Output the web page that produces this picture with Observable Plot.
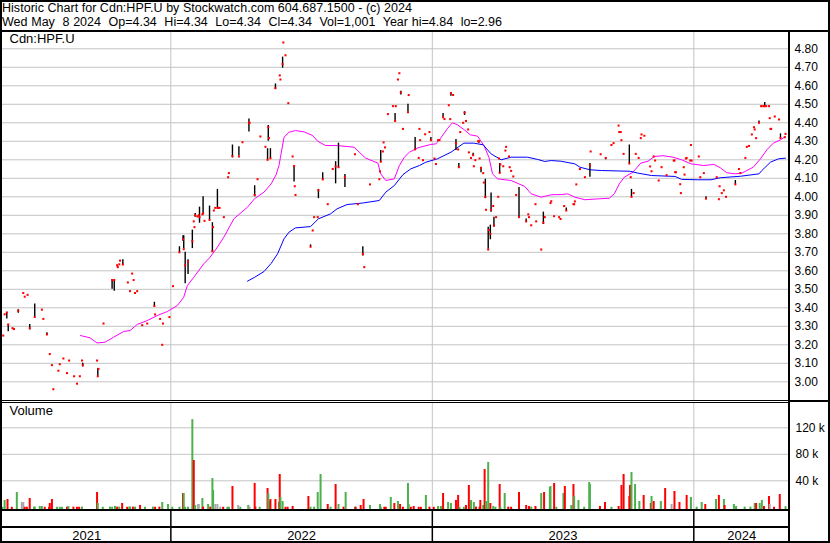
<!DOCTYPE html>
<html><head><meta charset="utf-8">
<script src="https://cdn.jsdelivr.net/npm/d3@7"></script>
<script src="https://cdn.jsdelivr.net/npm/@observablehq/plot@0.6"></script>
<style>
body{margin:0;background:#fff;}
#wrap{position:relative;width:830px;height:543px;overflow:hidden;font-family:Arial,"Liberation Sans",sans-serif;background:#fff;}
.ln{position:absolute;background:#000;}
.hdr{position:absolute;left:2px;font-size:12.5px;line-height:14px;white-space:pre;color:#000;}
.panel{position:absolute;left:0;}
.panel svg{display:block;}
</style></head><body><div id="wrap"></div><script>
// ---------- DATA ----------
const headerLine1 = "Historic Chart for Cdn:HPF.U by Stockwatch.com 604.687.1500 - (c) 2024";
const headerLine2 = "Wed May  8 2024  Op=4.34  Hi=4.34  Lo=4.34  Cl=4.34  Vol=1,001  Year hi=4.84  lo=2.96";
const symbolLabel = "Cdn:HPF.U";
const volumeLabel = "Volume";
const years = ["2021","2022","2023","2024"];
const yearStarts = ["2022-01-01","2023-01-01","2024-01-01"];
const dateRange = ["2021-05-11","2024-05-13T14:00"];
const priceTicks = [3.0,3.1,3.2,3.3,3.4,3.5,3.6,3.7,3.8,3.9,4.0,4.1,4.2,4.3,4.4,4.5,4.6,4.7,4.8];
const priceDomain = [2.899, 4.888];
const volTicks = [40,80,120];          // thousands
const volDomain = [-4.8, 158.2];       // thousands

// closing prices (red marks)
const closes = [
["2021-05-12",3.25],["2021-05-14",3.365],["2021-05-17",3.375],["2021-05-19",3.31],["2021-05-25",3.29],["2021-05-27",3.285],
["2021-06-02",3.385],["2021-06-09",3.48],["2021-06-11",3.46],["2021-06-15",3.47],["2021-06-18",3.29],["2021-06-25",3.35],
["2021-07-05",3.39],["2021-07-07",3.34],["2021-07-12",3.256],["2021-07-16",3.15],["2021-07-19",3.09],["2021-07-21",2.96],
["2021-07-28",3.06],["2021-07-30",3.095],["2021-08-04",3.126],["2021-08-09",3.047],["2021-08-12",3.115],["2021-08-19",3.03],
["2021-08-23",2.99],["2021-08-27",3.03],["2021-08-30",3.115],["2021-08-31",3.09],["2021-09-20",3.115],["2021-09-21",3.03],
["2021-09-22",3.07],["2021-09-29",3.315],["2021-10-11",3.55],["2021-10-14",3.55],["2021-10-18",3.63],["2021-10-19",3.62],
["2021-10-21",3.635],["2021-10-22",3.655],["2021-10-26",3.634],["2021-11-02",3.537],["2021-11-05",3.49],["2021-11-08",3.585],
["2021-11-10",3.55],["2021-11-12",3.48],["2021-11-15",3.49],["2021-11-22",3.306],["2021-11-29",3.315],["2021-12-09",3.41],
["2021-12-10",3.364],["2021-12-17",3.34],["2021-12-20",3.20],["2021-12-21",3.315],["2021-12-30",3.35],
["2022-01-04",3.517],["2022-01-13",3.70],["2022-01-18",3.77],["2022-01-19",3.717],["2022-01-21",3.63],["2022-01-25",3.65],
["2022-01-31",3.76],["2022-02-02",3.867],["2022-02-03",3.836],["2022-02-04",3.90],["2022-02-07",3.894],["2022-02-09",3.90],
["2022-02-10",3.89],["2022-02-14",3.905],["2022-02-15",3.91],["2022-02-17",3.87],["2022-02-24",3.875],["2022-02-28",3.706],
["2022-03-01",3.836],["2022-03-02",3.926],["2022-03-04",3.94],["2022-03-07",3.94],["2022-03-08",3.94],["2022-03-10",3.94],
["2022-03-16",3.89],["2022-03-22",4.106],["2022-03-23",4.128],["2022-03-28",4.22],["2022-04-06",4.218],["2022-04-11",4.295],
["2022-04-20",4.40],["2022-04-21",4.40],["2022-04-28",4.01],["2022-05-02",4.095],["2022-05-06",4.326],["2022-05-13",4.27],
["2022-05-16",4.20],["2022-05-17",4.376],["2022-05-18",4.317],["2022-05-20",4.208],["2022-05-27",4.587],["2022-06-02",4.656],
["2022-06-03",4.634],["2022-06-06",4.717],["2022-06-07",4.834],["2022-06-10",4.765],["2022-06-14",4.506],["2022-06-20",4.218],
["2022-06-22",4.166],["2022-06-23",4.057],["2022-06-24",4.01],["2022-07-15",3.73],["2022-07-18",3.818],["2022-07-20",3.89],
["2022-07-25",3.89],["2022-07-26",4.035],["2022-08-01",4.094],["2022-08-08",3.96],["2022-08-15",4.15],["2022-08-19",4.164],
["2022-08-23",4.16],["2022-09-01",4.106],["2022-09-15",4.23],["2022-09-19",3.96],["2022-09-26",3.69],["2022-09-28",3.62],
["2022-10-06",4.067],["2022-10-19",4.095],["2022-10-20",4.137],["2022-10-21",4.19],["2022-10-24",4.245],["2022-10-25",4.294],
["2022-10-27",4.267],["2022-10-31",4.447],["2022-11-07",4.49],["2022-11-10",4.41],["2022-11-11",4.49],["2022-11-14",4.634],
["2022-11-16",4.668],["2022-11-18",4.564],["2022-11-21",4.367],["2022-11-28",4.457],["2022-11-29",4.55],["2022-12-08",4.256],
["2022-12-13",4.21],["2022-12-14",4.367],["2022-12-15",4.306],["2022-12-19",4.198],["2022-12-22",4.338],["2022-12-28",4.35],
["2022-12-30",4.306],
["2023-01-04",4.207],["2023-01-06",4.177],["2023-01-09",4.306],["2023-01-11",4.306],["2023-01-16",4.43],["2023-01-18",4.42],
["2023-01-24",4.495],["2023-01-26",4.42],["2023-01-27",4.56],["2023-01-30",4.55],["2023-02-03",4.29],["2023-02-06",4.256],
["2023-02-07",4.16],["2023-02-09",4.35],["2023-02-13",4.40],["2023-02-15",4.455],["2023-02-17",4.41],["2023-02-20",4.364],
["2023-02-21",4.24],["2023-02-24",4.21],["2023-02-27",4.225],["2023-02-28",4.165],["2023-03-02",4.198],["2023-03-06",4.30],
["2023-03-07",4.30],["2023-03-08",4.207],["2023-03-10",4.155],["2023-03-13",4.128],["2023-03-14",4.077],["2023-03-16",4.0],
["2023-03-17",3.93],["2023-03-20",3.715],["2023-03-21",3.82],["2023-03-23",3.80],["2023-03-24",3.93],["2023-03-27",3.95],
["2023-03-28",3.845],["2023-03-31",3.89],["2023-04-03",4.0],["2023-04-04",4.207],["2023-04-05",4.13],["2023-04-06",4.175],
["2023-04-10",4.165],["2023-04-13",4.25],["2023-04-14",4.27],["2023-04-18",4.218],["2023-04-19",4.16],["2023-04-21",4.14],
["2023-04-24",4.11],["2023-04-28",4.01],["2023-05-02",3.89],["2023-05-12",3.867],["2023-05-15",3.905],["2023-05-16",3.89],
["2023-05-19",3.846],["2023-05-25",3.96],["2023-05-26",3.867],["2023-06-02",3.715],["2023-06-05",3.86],["2023-06-07",3.89],
["2023-06-15",3.966],["2023-06-16",3.976],["2023-06-20",3.895],["2023-06-27",3.89],["2023-06-29",3.88],["2023-07-04",3.95],
["2023-07-07",3.926],["2023-07-17",3.96],["2023-07-18",3.96],["2023-07-19",3.975],["2023-07-21",4.067],["2023-07-26",4.15],
["2023-08-02",4.106],["2023-08-09",4.17],["2023-08-10",4.245],["2023-08-24",4.23],["2023-08-31",4.21],["2023-09-08",4.28],
["2023-09-11",4.29],["2023-09-18",4.385],["2023-09-19",4.35],["2023-09-21",4.35],["2023-09-22",4.306],["2023-09-25",4.232],
["2023-10-03",4.18],["2023-10-05",4.106],["2023-10-06",4.0],["2023-10-09",4.02],["2023-10-12",4.232],["2023-10-16",4.21],
["2023-10-19",4.317],["2023-10-20",4.337],["2023-10-24",4.33],["2023-11-01",4.164],["2023-11-03",4.138],["2023-11-06",4.218],
["2023-11-08",4.196],["2023-11-13",4.088],["2023-11-17",4.16],["2023-11-24",4.117],["2023-12-04",4.196],["2023-12-05",4.196],
["2023-12-06",4.133],["2023-12-07",4.133],["2023-12-13",4.068],["2023-12-14",4.02],["2023-12-18",4.16],["2023-12-19",4.12],
["2023-12-21",4.207],["2023-12-22",4.21],["2023-12-27",4.196],["2023-12-28",4.28],["2023-12-29",4.196],
["2024-01-08",4.218],["2024-01-10",4.106],["2024-01-15",4.128],["2024-01-18",3.99],["2024-02-02",4.106],["2024-02-05",3.987],
["2024-02-06",4.057],["2024-02-09",4.02],["2024-02-12",4.035],["2024-02-15",4.0],["2024-02-28",4.067],["2024-03-04",4.15],
["2024-03-06",4.128],["2024-03-13",4.21],["2024-03-15",4.27],["2024-03-18",4.275],["2024-03-22",4.337],["2024-03-25",4.376],
["2024-03-26",4.364],["2024-03-28",4.317],["2024-04-01",4.40],["2024-04-04",4.49],["2024-04-05",4.49],["2024-04-08",4.49],
["2024-04-09",4.49],["2024-04-11",4.49],["2024-04-15",4.49],["2024-04-16",4.425],["2024-04-17",4.367],["2024-04-18",4.367],
["2024-04-23",4.434],["2024-04-29",4.418],["2024-05-01",4.317],["2024-05-07",4.322],["2024-05-08",4.34]
];

// daily low-high ranges (black bars)
const ranges = [
["2021-05-17",3.34,3.375],["2021-05-19",3.27,3.31],["2021-06-02",3.37,3.39],["2021-06-18",3.28,3.31],["2021-06-25",3.35,3.42],
["2021-07-12",3.25,3.265],["2021-08-31",3.08,3.10],["2021-09-21",3.03,3.07],["2021-10-11",3.50,3.55],["2021-10-14",3.49,3.55],
["2021-10-26",3.63,3.66],["2021-12-09",3.41,3.43],["2022-01-13",3.70,3.73],["2022-01-18",3.76,3.79],["2022-01-19",3.72,3.79],
["2022-01-21",3.53,3.70],["2022-01-25",3.58,3.66],["2022-01-31",3.72,3.82],["2022-02-04",3.89,3.91],["2022-02-10",3.857,3.944],
["2022-02-15",3.91,4.0],["2022-02-24",3.875,3.95],["2022-02-28",3.70,3.86],["2022-03-07",3.94,4.04],["2022-03-28",4.21,4.28],
["2022-04-06",4.22,4.27],["2022-04-20",4.35,4.42],["2022-04-28",4.0,4.06],["2022-05-16",4.20,4.26],["2022-05-17",4.30,4.385],
["2022-05-20",4.205,4.26],["2022-05-27",4.58,4.61],["2022-06-06",4.695,4.755],["2022-06-22",4.08,4.166],["2022-07-15",3.73,3.74],
["2022-07-26",3.99,4.04],["2022-08-01",4.09,4.13],["2022-08-19",4.07,4.19],["2022-08-23",4.155,4.29],["2022-09-01",4.05,4.12],
["2022-09-26",3.68,3.73],["2022-10-21",4.185,4.25],["2022-11-10",4.41,4.45],["2022-11-18",4.55,4.57],["2022-11-28",4.457,4.50],
["2022-12-08",4.256,4.32],["2022-12-30",4.30,4.32],["2023-01-16",4.43,4.45],["2023-01-27",4.544,4.564],["2023-02-03",4.25,4.31],
["2023-02-07",4.157,4.18],["2023-02-15",4.44,4.46],["2023-02-27",4.22,4.235],["2023-03-07",4.29,4.30],["2023-03-10",4.13,4.16],
["2023-03-16",3.99,4.095],["2023-03-20",3.717,3.835],["2023-03-23",3.768,3.847],["2023-03-24",3.917,4.02],["2023-03-28",3.836,3.89],
["2023-04-05",4.124,4.18],["2023-05-02",3.89,4.05],["2023-05-12",3.867,3.88],["2023-06-05",3.85,3.917],["2023-07-07",3.926,3.94],
["2023-08-09",4.106,4.18],["2023-08-31",4.20,4.21],["2023-10-03",4.18,4.28],["2023-10-06",4.0,4.04],["2024-01-18",3.987,4.0],
["2024-02-28",4.067,4.088],["2024-04-01",4.40,4.41],["2024-04-09",4.49,4.51],["2024-05-01",4.317,4.34]
];

// short moving average (magenta)
const maShort = [
["2021-08-28",3.25],["2021-09-10",3.238],["2021-09-20",3.21],["2021-10-01",3.214],["2021-10-13",3.241],["2021-10-27",3.272],
["2021-11-05",3.277],["2021-11-15",3.31],["2021-11-29",3.331],["2021-12-13",3.358],["2021-12-27",3.38],["2022-01-10",3.412],
["2022-01-19",3.457],["2022-01-24",3.52],["2022-02-02",3.565],["2022-02-16",3.638],["2022-02-25",3.674],["2022-03-07",3.728],
["2022-03-16",3.782],["2022-03-30",3.881],["2022-04-18",3.944],["2022-04-28",3.99],["2022-05-11",4.025],["2022-05-21",4.07],
["2022-05-28",4.12],["2022-06-01",4.17],["2022-06-03",4.214],["2022-06-08",4.322],["2022-06-15",4.349],["2022-06-24",4.358],
["2022-07-06",4.351],["2022-07-18",4.331],["2022-07-25",4.30],["2022-08-05",4.277],["2022-08-21",4.277],["2022-09-14",4.268],
["2022-09-21",4.241],["2022-09-30",4.209],["2022-10-17",4.182],["2022-10-21",4.124],["2022-10-28",4.088],["2022-11-09",4.097],
["2022-11-16",4.169],["2022-11-23",4.214],["2022-11-30",4.241],["2022-12-12",4.265],["2022-12-30",4.283],["2023-01-06",4.286],
["2023-01-13",4.319],["2023-01-22",4.368],["2023-01-29",4.40],["2023-02-05",4.389],["2023-02-14",4.364],["2023-02-23",4.335],
["2023-03-05",4.328],["2023-03-14",4.277],["2023-03-21",4.214],["2023-03-26",4.124],["2023-04-02",4.097],["2023-04-21",4.088],
["2023-05-10",4.056],["2023-05-19",4.016],["2023-06-02",3.998],["2023-06-16",4.011],["2023-06-30",4.012],["2023-07-09",4.016],
["2023-07-19",3.998],["2023-08-02",3.984],["2023-08-21",3.989],["2023-09-05",3.992],["2023-09-12",4.016],["2023-09-19",4.07],
["2023-09-26",4.106],["2023-10-08",4.133],["2023-10-19",4.182],["2023-10-29",4.192],["2023-11-07",4.218],["2023-11-19",4.222],
["2023-12-03",4.214],["2023-12-15",4.20],["2023-12-28",4.178],["2024-01-15",4.169],["2024-01-29",4.175],["2024-02-07",4.157],
["2024-02-16",4.13],["2024-02-28",4.124],["2024-03-08",4.128],["2024-03-24",4.16],["2024-04-03",4.205],["2024-04-12",4.254],
["2024-04-21",4.29],["2024-05-01",4.308],["2024-05-08",4.326]
];

// long moving average (blue)
const maLong = [
["2022-04-18",3.544],["2022-04-28",3.565],["2022-05-11",3.596],["2022-05-21",3.64],["2022-05-30",3.692],["2022-06-08",3.773],
["2022-06-15",3.809],["2022-06-24",3.832],["2022-07-15",3.839],["2022-07-26",3.881],["2022-08-12",3.908],["2022-08-21",3.935],
["2022-09-04",3.958],["2022-09-27",3.967],["2022-10-19",3.98],["2022-10-28",4.025],["2022-11-09",4.061],["2022-11-21",4.12],
["2022-12-02",4.151],["2022-12-14",4.169],["2022-12-23",4.187],["2023-01-08",4.205],["2023-01-27",4.241],["2023-02-14",4.29],
["2023-02-28",4.29],["2023-03-13",4.281],["2023-03-24",4.232],["2023-04-07",4.20],["2023-04-21",4.214],["2023-05-14",4.214],
["2023-05-28",4.202],["2023-06-07",4.191],["2023-06-16",4.196],["2023-06-30",4.192],["2023-07-19",4.178],["2023-07-26",4.16],
["2023-08-09",4.146],["2023-08-25",4.142],["2023-10-04",4.138],["2023-10-15",4.128],["2023-11-03",4.115],["2023-12-06",4.11],
["2023-12-15",4.094],["2024-01-06",4.092],["2024-01-25",4.092],["2024-02-07",4.103],["2024-03-06",4.111],["2024-04-01",4.124],
["2024-04-05",4.142],["2024-04-17",4.187],["2024-04-28",4.205],["2024-05-08",4.209]
];

// daily volume in thousands; g = up, r = down, n = unchanged
const volumes = [
["2021-05-11",0.1,"g"],["2021-05-14",10.3,"g"],["2021-05-18",11.8,"r"],["2021-05-24",0.1,"r"],["2021-05-31",22.4,"g"],
["2021-06-07",7.3,"n"],["2021-06-09",7.3,"n"],["2021-06-11",0.1,"r"],["2021-06-14",0.1,"r"],["2021-06-18",13.3,"r"],
["2021-06-24",0.3,"g"],["2021-06-25",0.3,"g"],["2021-07-02",1.3,"g"],["2021-07-05",1.3,"g"],["2021-07-09",0.1,"r"],
["2021-07-15",0.1,"r"],["2021-07-16",5.8,"r"],["2021-07-19",11.8,"r"],["2021-07-26",0.1,"g"],["2021-07-30",0.1,"g"],
["2021-08-02",0.1,"g"],["2021-08-09",0.1,"r"],["2021-08-11",1.3,"g"],["2021-08-18",0.3,"r"],["2021-08-23",0.1,"r"],
["2021-08-26",0.1,"r"],["2021-08-30",0.3,"g"],["2021-09-20",22.4,"r"],["2021-09-21",5.8,"g"],["2021-09-28",0.1,"g"],
["2021-10-08",0.3,"g"],["2021-10-11",0.1,"g"],["2021-10-15",1.3,"g"],["2021-10-18",0.3,"r"],["2021-10-21",0.3,"g"],
["2021-10-25",5.8,"r"],["2021-11-01",0.1,"r"],["2021-11-04",0.3,"g"],["2021-11-05",0.3,"g"],["2021-11-09",0.3,"r"],
["2021-11-12",0.3,"g"],["2021-11-19",2.8,"r"],["2021-11-26",0.1,"g"],["2021-12-07",0.3,"g"],["2021-12-10",0.1,"r"],
["2021-12-16",0.3,"r"],["2021-12-20",7.3,"g"],["2021-12-28",4.3,"g"],
["2022-01-03",0.1,"g"],["2022-01-13",0.1,"g"],["2022-01-18",20.9,"r"],["2022-01-19",20.9,"g"],["2022-01-21",0.1,"g"],
["2022-01-25",0.1,"g"],["2022-01-31",132.4,"g"],["2022-02-02",70.6,"r"],["2022-02-04",2.8,"g"],["2022-02-08",4.3,"n"],
["2022-02-09",4.3,"n"],["2022-02-14",13.3,"g"],["2022-02-15",0.3,"r"],["2022-02-22",4.3,"g"],["2022-02-25",0.3,"r"],
["2022-02-28",43.5,"g"],["2022-03-01",25.4,"g"],["2022-03-04",4.3,"n"],["2022-03-07",4.3,"n"],["2022-03-11",0.3,"n"],
["2022-03-15",0.1,"r"],["2022-03-21",0.1,"g"],["2022-03-23",0.1,"g"],["2022-03-28",31.4,"r"],["2022-04-05",2.8,"n"],
["2022-04-08",0.1,"g"],["2022-04-19",2.8,"g"],["2022-04-21",0.3,"n"],["2022-04-28",36,"r"],["2022-04-29",0.3,"r"],
["2022-05-05",0.1,"g"],["2022-05-16",28.4,"r"],["2022-05-17",20.9,"g"],["2022-05-18",8.8,"g"],["2022-05-20",11.8,"r"],
["2022-05-27",11.8,"r"],["2022-06-01",7.3,"g"],["2022-06-02",49.5,"r"],["2022-06-03",14.8,"g"],["2022-06-06",8.8,"g"],
["2022-06-10",0.1,"r"],["2022-06-13",0.1,"r"],["2022-06-20",1.3,"r"],["2022-07-12",16.3,"r"],["2022-07-15",0.3,"g"],
["2022-07-20",0.3,"g"],["2022-07-25",22.4,"g"],["2022-07-29",49.5,"g"],["2022-08-08",4.3,"r"],["2022-08-12",0.3,"g"],
["2022-08-19",34.4,"r"],["2022-08-23",4.3,"g"],["2022-08-30",0.3,"r"],["2022-09-02",22.4,"g"],["2022-09-15",0.3,"g"],
["2022-09-16",0.1,"r"],["2022-09-23",2.8,"r"],["2022-09-27",11.8,"r"],["2022-10-06",2.8,"g"],["2022-10-20",4.3,"g"],
["2022-10-21",0.3,"g"],["2022-10-26",0.1,"r"],["2022-10-28",0.1,"r"],["2022-11-04",14.8,"g"],["2022-11-09",5.8,"r"],
["2022-11-14",8.8,"g"],["2022-11-17",4.3,"r"],["2022-11-21",0.1,"r"],["2022-11-28",36,"g"],["2022-11-29",4.3,"g"],
["2022-12-02",0.1,"r"],["2022-12-06",1.3,"r"],["2022-12-13",0.1,"r"],["2022-12-16",0.1,"r"],["2022-12-23",17.9,"g"],
["2022-12-28",0.3,"r"],
["2023-01-03",0.1,"r"],["2023-01-09",1.3,"g"],["2023-01-13",1.3,"g"],["2023-01-16",20.9,"r"],["2023-01-23",7.3,"g"],
["2023-01-27",5.8,"g"],["2023-02-03",10.3,"r"],["2023-02-06",17.9,"r"],["2023-02-08",0.1,"g"],["2023-02-14",0.1,"g"],
["2023-02-17",2.8,"r"],["2023-02-21",33,"r"],["2023-02-24",10.3,"g"],["2023-02-28",7.3,"g"],["2023-03-03",0.3,"r"],
["2023-03-08",0.3,"r"],["2023-03-09",10.3,"r"],["2023-03-13",2.8,"g"],["2023-03-15",57,"r"],["2023-03-17",8.8,"g"],
["2023-03-20",67.6,"g"],["2023-03-23",5.8,"r"],["2023-03-27",1.3,"g"],["2023-03-30",0.1,"g"],["2023-04-05",34.4,"r"],
["2023-04-06",0.3,"g"],["2023-04-12",20.9,"g"],["2023-04-17",0.3,"r"],["2023-04-21",0.1,"r"],["2023-05-02",22.4,"r"],
["2023-05-12",2.8,"r"],["2023-05-16",1.3,"r"],["2023-05-19",0.3,"g"],["2023-05-25",1.3,"r"],["2023-06-02",20.9,"g"],
["2023-06-06",22.4,"r"],["2023-06-14",29.9,"g"],["2023-06-15",31.4,"g"],["2023-06-20",36,"r"],["2023-06-23",0.3,"g"],
["2023-07-03",20.9,"g"],["2023-07-05",31.4,"r"],["2023-07-14",2.8,"g"],["2023-07-17",34.4,"r"],["2023-07-18",16.3,"g"],
["2023-07-24",10.3,"g"],["2023-08-01",0.1,"g"],["2023-08-08",37.5,"g"],["2023-08-09",34.4,"g"],["2023-08-23",1.3,"r"],
["2023-08-30",7.3,"r"],["2023-09-08",0.1,"g"],["2023-09-18",1.3,"r"],["2023-09-22",33,"r"],["2023-09-25",49.5,"r"],
["2023-10-03",16.3,"r"],["2023-10-04",33,"r"],["2023-10-06",52.6,"g"],["2023-10-11",34.4,"g"],["2023-10-17",8.8,"g"],
["2023-10-23",17.9,"r"],["2023-11-02",5.8,"r"],["2023-11-03",16.3,"g"],["2023-11-06",8.8,"r"],["2023-11-16",8.8,"g"],
["2023-11-22",28.4,"r"],["2023-12-01",4.3,"n"],["2023-12-05",23.9,"r"],["2023-12-12",7.3,"r"],["2023-12-22",17.9,"r"],
["2023-12-28",14.8,"g"],
["2024-01-05",0.1,"g"],["2024-01-12",7.3,"g"],["2024-01-17",4.3,"r"],["2024-02-01",11.8,"g"],["2024-02-05",17.9,"r"],
["2024-02-12",11.8,"g"],["2024-02-13",2.8,"r"],["2024-02-26",4.3,"g"],["2024-02-29",1.3,"g"],["2024-03-12",0.3,"g"],
["2024-03-20",0.3,"g"],["2024-03-26",5.8,"g"],["2024-03-28",5.8,"r"],["2024-04-02",5.8,"g"],["2024-04-05",10.3,"g"],
["2024-04-08",1.3,"r"],["2024-04-15",16.3,"r"],["2024-04-16",4.3,"n"],["2024-04-22",0.1,"r"],["2024-04-30",19.4,"r"],
["2024-05-08",1.0,"g"]
];

// ---------- STYLE ----------
const gridColor = "#c4c4c4";
const volColors = {g:"#4cb04c", r:"#ff0000", n:"#a8a8a8"};
const W = 830, mL = 2, mR = 41;
const hdrWidths = [410, 500];   // rendered widths of the two header lines

// ---------- BUILD ----------
const P = s => new Date(s.length <= 10 ? s + "T00:00Z" : s + "Z");
const xDom = dateRange.map(P);
const yStarts = yearStarts.map(P);
const closeData = closes.map(([d,v]) => ({date:P(d), v}));
const rangeData = ranges.map(([d,lo,hi]) => ({date:P(d), lo, hi}));
const shortData = maShort.map(([d,v]) => ({date:P(d), v}));
const longData = maLong.map(([d,v]) => ({date:P(d), v}));
const volData = volumes.map(([d,v,c]) => ({date:P(d), v, c}));
const bounds = [xDom[0], ...yStarts, xDom[1]];
const yearLabels = years.map((y,i) => ({label:y, date:new Date((+bounds[i] + +bounds[i+1]) / 2)}));

const wrap = document.getElementById("wrap");
function addLine(l,t,w,h){const d=document.createElement("div");d.className="ln";Object.assign(d.style,{left:l+"px",top:t+"px",width:w+"px",height:h+"px"});wrap.appendChild(d);}
function addHdr(text,top,target,mode){
  const d=document.createElement("div");d.className="hdr";d.style.top=top+"px";d.textContent=text;wrap.appendChild(d);
  const w=d.getBoundingClientRect().width;
  if(mode==="letter"){d.style.letterSpacing=((target-w)/text.length)+"px";}
  else{const n=(text.match(/ /g)||[]).length;d.style.wordSpacing=((target-w)/n)+"px";}
}
function addPanel(svg,top){const d=document.createElement("div");d.className="panel";d.style.top=top+"px";d.appendChild(svg);wrap.appendChild(d);}

addHdr(headerLine1, 1, hdrWidths[0], "letter");
addHdr(headerLine2, 15, hdrWidths[1], "word");

const xOpt = {type:"utc", domain:xDom, axis:null};
const font = 'Arial, "Liberation Sans", sans-serif';

const price = Plot.plot({
  width:W, height:370, marginTop:1, marginBottom:1, marginLeft:mL, marginRight:mR,
  x:xOpt, y:{domain:priceDomain, axis:null},
  style:{background:"transparent", overflow:"visible", fontFamily:font},
  marks:[
    Plot.ruleY(priceTicks, {stroke:gridColor, strokeWidth:1}),
    Plot.ruleX(yStarts, {stroke:gridColor, strokeWidth:1}),
    Plot.line(shortData, {x:"date", y:"v", stroke:"#ff00ff", strokeWidth:1}),
    Plot.line(longData, {x:"date", y:"v", stroke:"#0000ff", strokeWidth:1}),
    Plot.ruleX(rangeData, {x:"date", y1:"lo", y2:"hi", stroke:"#000", strokeWidth:1.4}),
    Plot.dot(closeData, {x:"date", y:"v", symbol:"square", r:1.15, fill:"#ff0000", stroke:"none"}),
    Plot.text(priceTicks, {x:() => xDom[1], y:d => d, text:d => d.toFixed(2), textAnchor:"start", dx:5, fontSize:12, fill:"#000"}),
    Plot.text([symbolLabel], {frameAnchor:"top-left", text:d => d, dx:7, dy:1, fontSize:13, fill:"#000", lineAnchor:"top"})
  ]
});
addPanel(price, 31);

const vol = Plot.plot({
  width:W, height:109, marginTop:1, marginBottom:0, marginLeft:mL, marginRight:mR,
  x:xOpt, y:{domain:volDomain, axis:null},
  style:{background:"transparent", overflow:"visible", fontFamily:font},
  marks:[
    Plot.ruleY(volTicks, {stroke:gridColor, strokeWidth:1}),
    Plot.ruleX(yStarts, {stroke:gridColor, strokeWidth:1}),
    Plot.ruleX(volData, {x:"date", y1:() => volDomain[0], y2:"v", stroke:d => volColors[d.c], strokeWidth:2}),
    Plot.text(volTicks, {x:() => xDom[1], y:d => d, text:d => d + " k", textAnchor:"start", dx:6, fontSize:12, fill:"#000"}),
    Plot.text([volumeLabel], {frameAnchor:"top-left", text:d => d, dx:7, dy:3, fontSize:13, fill:"#000", lineAnchor:"top"})
  ]
});
addPanel(vol, 401);

const axis = Plot.plot({
  width:W, height:33, marginTop:0, marginBottom:0, marginLeft:mL, marginRight:mR,
  x:xOpt, y:{domain:[0,1], axis:null},
  style:{background:"transparent", overflow:"visible", fontFamily:font},
  marks:[
    Plot.ruleX(yStarts, {stroke:"#000", strokeWidth:1.5}),
    Plot.text(yearLabels, {x:"date", frameAnchor:"bottom", text:"label", dy:-8, fontSize:13, fill:"#000", lineAnchor:"middle"})
  ]
});
addPanel(axis, 510);

// frame lines
addLine(0,0,W,2);          // top
addLine(0,0,2,543);        // left
addLine(828,0,2,543);      // right
addLine(0,541,W,2);        // bottom
addLine(0,30,W,2);         // under header
addLine(788,30,2,513);     // axis separator
addLine(0,400,790,1); addLine(0,402,790,1); addLine(790,400,40,2); // price/volume split
addLine(0,509,790,2);      // volume bottom
addLine(0,526,790,2);      // year row separator
</script></body></html>
